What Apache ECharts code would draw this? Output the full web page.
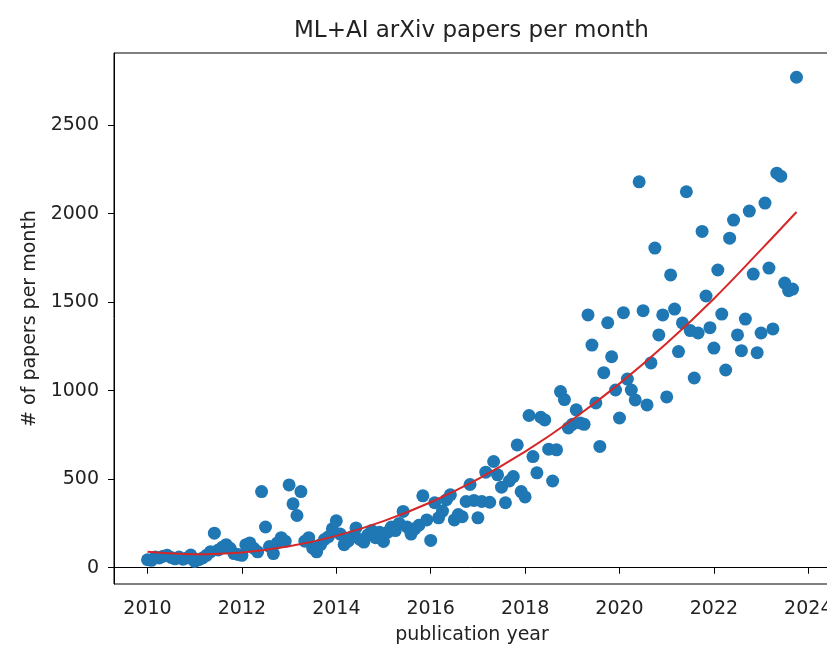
<!DOCTYPE html>
<html>
<head>
<meta charset="utf-8">
<script src="https://cdn.jsdelivr.net/npm/echarts@6/dist/echarts.min.js"></script>
<style>
  html, body { margin: 0; padding: 0; background: #fff; }
  #chart { width: 827px; height: 656px; }
</style>
</head>
<body>
<div id="chart"></div>
<script>
// monthly ML+AI paper counts, Jan 2010 .. Oct 2023
const startYear = 2010;
const papers = [
  45, 42, 60, 55, 65, 70, 58, 50, 60, 48, 55, 72,              // 2010
  35, 45, 55, 70, 90, 195, 100, 115, 130, 110, 80, 75,         // 2011
  70, 130, 140, 110, 90, 430, 230, 120, 80, 140, 170, 150,     // 2012
  468, 361, 295, 430, 150, 170, 110, 90, 130, 160, 175, 220,   // 2013
  265, 190, 130, 150, 175, 225, 160, 145, 185, 210, 170, 200,  // 2014
  148, 200, 230, 210, 250, 318, 230, 190, 220, 240, 406, 270,  // 2015
  154, 367, 282, 320, 384, 412, 270, 300, 288, 374, 470, 380,  // 2016
  282, 374, 540, 370, 600, 525, 455, 367, 490, 515, 694, 430,  // 2017
  400, 860, 628, 536, 850, 835, 670, 490, 666, 995, 950, 790,  // 2018
  810, 892, 818, 810, 1428, 1258, 931, 685, 1102, 1384, 1192, 1004, // 2019
  846, 1441, 1066, 1004, 948, 2180, 1452, 920, 1157, 1806, 1315, 1428, // 2020
  965, 1654, 1461, 1221, 1383, 2124, 1340, 1072, 1326, 1900, 1535, 1356, // 2021
  1241, 1682, 1433, 1117, 1862, 1964, 1315, 1226, 1405, 2015, 1659, 1215, // 2022
  1326, 2060, 1693, 1349, 2229, 2212, 1608, 1565, 1574, 2771  // 2023
];

// fitted trend
const fitYears = [2010, 2011, 2012, 2013, 2014, 2015, 2016, 2017, 2018, 2019, 2020, 2021, 2022, 2023, 2023.75];
const fitValues = [90, 76, 86, 121, 180, 263, 370, 501, 656, 836, 1040, 1268, 1520, 1797, 2010];

const xTicks = [2010, 2012, 2014, 2016, 2018, 2020, 2022, 2024];
const yTicks = [0, 500, 1000, 1500, 2000, 2500];

const points = papers.map((v, i) => [startYear + i / 12, v]);
const fitLine = fitYears.map((y, i) => [y, fitValues[i]]);

const font = 'DejaVu Sans';
const textColor = '#222';

const chart = echarts.init(document.getElementById('chart'));
chart.setOption({
  animation: false,
  backgroundColor: '#fff',
  title: {
    text: 'ML+AI arXiv papers per month',
    left: 294,
    top: 20,
    padding: 0,
    textStyle: { fontFamily: font, fontSize: 23, fontWeight: 'normal', color: textColor }
  },
  grid: {
    left: 114,
    top: 53,
    width: 716,
    bottom: 72,
    outerBoundsMode: 'none',
    show: true,
    borderColor: '#000',
    borderWidth: 1
  },
  xAxis: {
    type: 'value',
    min: 2009.29,
    max: 2024.46,
    name: 'publication year',
    nameLocation: 'middle',
    nameGap: 42,
    nameTextStyle: { fontFamily: font, fontSize: 19, color: textColor },
    splitLine: { show: false },
    axisLine: { lineStyle: { color: '#000', width: 1 } },
    axisTick: { length: 6, lineStyle: { color: '#000' }, customValues: xTicks },
    axisLabel: {
      customValues: xTicks,
      margin: 16,
      fontFamily: font,
      fontSize: 19,
      color: textColor,
      formatter: v => String(v)
    }
  },
  yAxis: {
    type: 'value',
    min: -92,
    max: 2908,
    name: '# of papers per month',
    nameLocation: 'middle',
    nameGap: 74,
    nameTextStyle: { fontFamily: font, fontSize: 19, color: textColor },
    splitLine: { show: false },
    axisLine: { show: true, lineStyle: { color: '#000', width: 1 } },
    axisTick: { show: true, length: 6, lineStyle: { color: '#000' }, customValues: yTicks },
    axisLabel: {
      customValues: yTicks,
      margin: 15,
      fontFamily: font,
      fontSize: 19,
      color: textColor,
      formatter: v => String(v)
    }
  },
  series: [
    {
      type: 'scatter',
      data: points,
      symbolSize: 13,
      itemStyle: { color: '#1f77b4', opacity: 1 }
    },
    {
      type: 'line',
      data: fitLine,
      smooth: 0.4,
      showSymbol: false,
      lineStyle: { color: '#d62728', width: 2 },
      z: 3
    }
  ]
});
</script>
</body>
</html>
